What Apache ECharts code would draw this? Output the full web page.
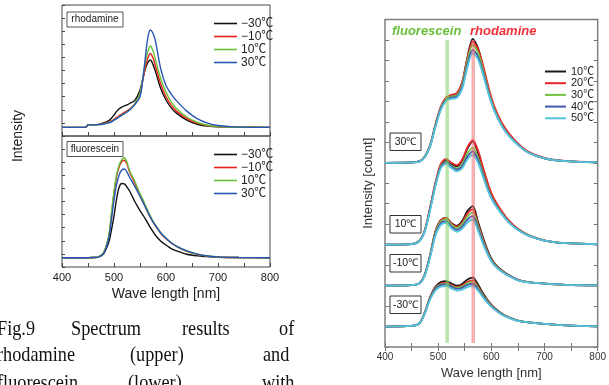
<!DOCTYPE html>
<html>
<head>
<meta charset="utf-8">
<script src="https://cdn.jsdelivr.net/npm/echarts@6/dist/echarts.min.js"></script>
<style>
  html, body { margin: 0; padding: 0; background: #fff; }
  #chart { width: 609px; height: 385px; }
</style>
</head>
<body>
<div id="chart"></div>
<script>
// ---- left figure: separate spectra (Fig.9) ----
const leftWl = [400, 445, 450, 460, 470, 480, 490, 495, 500, 505, 510, 515, 520, 525, 530, 540, 550, 555, 560, 565, 570, 575, 580, 590, 600, 610, 620, 640, 660, 680, 700, 740, 800];
const leftLabels = ['−30℃', '−10℃', '10℃', '30℃'];
const leftColors = ['#111111', '#e8221b', '#6abf3a', '#2756b5'];

// rhodamine (upper panel)
const rhodM30 = [0.66, 0.66, 0.84, 0.86, 0.89, 1.0, 1.18, 1.35, 1.6, 1.88, 2.08, 2.2, 2.3, 2.38, 2.48, 2.72, 3.5, 4.3, 5.1, 5.6, 5.8, 5.45, 4.9, 3.6, 2.75, 2.15, 1.75, 1.22, 0.9, 0.76, 0.7, 0.67, 0.66];
const rhodM10 = [0.66, 0.66, 0.84, 0.85, 0.87, 0.95, 1.05, 1.15, 1.28, 1.42, 1.55, 1.68, 1.8, 1.92, 2.05, 2.45, 3.2, 4.15, 5.2, 5.95, 6.3, 5.95, 5.3, 3.95, 3.0, 2.35, 1.9, 1.32, 0.98, 0.8, 0.72, 0.67, 0.66];
const rhodP10 = [0.66, 0.66, 0.84, 0.85, 0.87, 0.93, 1.02, 1.1, 1.22, 1.35, 1.48, 1.6, 1.72, 1.85, 2.0, 2.45, 3.25, 4.35, 5.6, 6.45, 6.87, 6.5, 5.8, 4.35, 3.35, 2.6, 2.1, 1.45, 1.05, 0.82, 0.73, 0.67, 0.66];
const rhodP30 = [0.66, 0.66, 0.84, 0.85, 0.87, 0.92, 1.0, 1.08, 1.2, 1.33, 1.45, 1.58, 1.7, 1.83, 1.98, 2.4, 3.0, 4.2, 5.9, 7.5, 8.09, 7.85, 7.2, 5.1, 3.85, 3.2, 2.7, 1.9, 1.33, 0.98, 0.8, 0.68, 0.66];

// fluorescein (lower panel)
const fluoM30 = [0.71, 0.71, 0.71, 0.72, 0.76, 1.0, 1.9, 2.8, 3.9, 5.2, 6.1, 6.37, 6.35, 6.1, 5.8, 5.0, 4.3, 4.0, 3.7, 3.35, 3.0, 2.7, 2.4, 1.97, 1.68, 1.4, 1.23, 0.97, 0.85, 0.79, 0.74, 0.72, 0.71];
const fluoM10 = [0.71, 0.71, 0.71, 0.72, 0.77, 1.08, 2.35, 3.95, 5.6, 6.9, 7.65, 8.05, 8.15, 7.85, 7.25, 6.4, 5.45, 5.05, 4.62, 4.18, 3.78, 3.42, 3.12, 2.56, 2.15, 1.83, 1.58, 1.2, 0.97, 0.83, 0.76, 0.72, 0.71];
const fluoP10 = [0.71, 0.71, 0.71, 0.72, 0.77, 1.1, 2.4, 4.1, 5.8, 7.05, 7.8, 8.2, 8.34, 8.0, 7.35, 6.55, 5.6, 5.2, 4.75, 4.3, 3.9, 3.5, 3.2, 2.62, 2.2, 1.87, 1.6, 1.22, 0.98, 0.84, 0.77, 0.72, 0.71];
const fluoP30 = [0.71, 0.71, 0.71, 0.72, 0.76, 1.02, 2.2, 3.6, 5.1, 6.3, 7.05, 7.4, 7.48, 7.25, 6.85, 6.15, 5.4, 5.0, 4.6, 4.2, 3.8, 3.45, 3.15, 2.6, 2.2, 1.85, 1.6, 1.23, 0.98, 0.84, 0.77, 0.72, 0.71];

// ---- right figure: mixed solution, offset spectra ----
const rightWl = [400, 450, 465, 475, 485, 495, 505, 515, 525, 535, 545, 555, 565, 575, 585, 595, 605, 620, 635, 650, 670, 700, 740, 800];
const tempLabels = ['10℃', '20℃', '30℃', '40℃', '50℃'];
const tempColors = ['#1a1a1a', '#e8232a', '#74c043', '#4658ad', '#55c4dc'];
const groupLabels = ['30℃', '10℃', '-10℃', '-30℃'];
const groupOffsets = [9, 5, 3, 1];
const markerWl = [517, 566];
const markerSpan = [0.2, 15];

// group "30℃"
const mix30_t10 = [0, 0.02, 0.07, 0.3, 0.85, 1.85, 2.7, 3.15, 3.27, 3.35, 3.9, 5.15, 6.05, 5.6, 4.63, 3.55, 2.7, 1.85, 1.3, 0.9, 0.5, 0.22, 0.08, 0.02];
const mix30_t20 = [0, 0.02, 0.08, 0.32, 0.88, 1.9, 2.75, 3.2, 3.32, 3.4, 3.92, 5.1, 5.92, 5.55, 4.7, 3.65, 2.8, 1.95, 1.38, 0.95, 0.54, 0.24, 0.09, 0.02];
const mix30_t30 = [0, 0.02, 0.07, 0.3, 0.85, 1.84, 2.68, 3.12, 3.24, 3.3, 3.8, 4.98, 5.76, 5.38, 4.5, 3.48, 2.66, 1.83, 1.28, 0.89, 0.5, 0.22, 0.08, 0.02];
const mix30_t40 = [0, 0.02, 0.07, 0.29, 0.83, 1.8, 2.63, 3.07, 3.18, 3.23, 3.7, 4.8, 5.52, 5.18, 4.35, 3.4, 2.6, 1.8, 1.26, 0.88, 0.49, 0.22, 0.08, 0.02];
const mix30_t50 = [0, 0.02, 0.06, 0.28, 0.8, 1.76, 2.58, 3.02, 3.12, 3.17, 3.6, 4.66, 5.36, 5.05, 4.25, 3.34, 2.57, 1.78, 1.25, 0.87, 0.49, 0.22, 0.08, 0.02];
// group "10℃"
const mix10_t10 = [0, 0.03, 0.2, 0.7, 1.8, 3.0, 3.88, 4.12, 3.93, 3.82, 4.1, 4.7, 5.05, 4.48, 3.6, 2.75, 2.15, 1.55, 1.07, 0.75, 0.45, 0.2, 0.07, 0.02];
const mix10_t20 = [0, 0.03, 0.21, 0.72, 1.85, 3.05, 3.95, 4.19, 4.0, 3.88, 4.15, 4.75, 5.1, 4.6, 3.72, 2.88, 2.25, 1.62, 1.12, 0.78, 0.47, 0.21, 0.07, 0.02];
const mix10_t30 = [0, 0.03, 0.2, 0.7, 1.78, 2.97, 3.84, 4.06, 3.86, 3.72, 3.92, 4.45, 4.73, 4.25, 3.45, 2.67, 2.1, 1.52, 1.05, 0.74, 0.45, 0.2, 0.07, 0.02];
const mix10_t40 = [0, 0.03, 0.19, 0.68, 1.75, 2.93, 3.8, 4.03, 3.82, 3.66, 3.83, 4.3, 4.56, 4.12, 3.36, 2.6, 2.06, 1.5, 1.04, 0.73, 0.44, 0.2, 0.07, 0.02];
const mix10_t50 = [0, 0.03, 0.18, 0.66, 1.7, 2.87, 3.73, 3.95, 3.74, 3.58, 3.72, 4.16, 4.4, 3.99, 3.27, 2.54, 2.02, 1.48, 1.03, 0.72, 0.44, 0.2, 0.07, 0.02];
// group "-10℃"
const mixM10_t10 = [0, 0.02, 0.12, 0.55, 1.5, 2.65, 3.2, 3.31, 3.05, 2.92, 3.15, 3.65, 3.88, 3.1, 2.3, 1.6, 1.12, 0.74, 0.48, 0.28, 0.17, 0.1, 0.04, 0.01];
const mixM10_t20 = [0, 0.02, 0.12, 0.55, 1.5, 2.65, 3.2, 3.31, 3.02, 2.88, 3.08, 3.52, 3.72, 3.0, 2.22, 1.54, 1.08, 0.72, 0.47, 0.28, 0.17, 0.1, 0.04, 0.01];
const mixM10_t30 = [0, 0.02, 0.12, 0.54, 1.48, 2.6, 3.14, 3.25, 2.97, 2.82, 3.0, 3.38, 3.56, 2.9, 2.15, 1.5, 1.05, 0.7, 0.46, 0.27, 0.17, 0.1, 0.04, 0.01];
const mixM10_t40 = [0, 0.02, 0.11, 0.52, 1.44, 2.52, 3.05, 3.15, 2.88, 2.72, 2.88, 3.22, 3.39, 2.78, 2.07, 1.45, 1.02, 0.68, 0.45, 0.27, 0.16, 0.1, 0.04, 0.01];
const mixM10_t50 = [0, 0.02, 0.11, 0.5, 1.4, 2.45, 2.97, 3.07, 2.8, 2.63, 2.77, 3.08, 3.23, 2.68, 2.0, 1.41, 1.0, 0.67, 0.44, 0.26, 0.16, 0.1, 0.04, 0.01];
// group "-30℃"
const mixM30_t10 = [0, 0.03, 0.17, 0.7, 1.45, 1.95, 2.17, 2.22, 2.1, 2.0, 2.08, 2.3, 2.39, 2.05, 1.6, 1.22, 0.93, 0.62, 0.43, 0.29, 0.2, 0.13, 0.06, 0.01];
const mixM30_t20 = [0, 0.03, 0.17, 0.69, 1.42, 1.9, 2.1, 2.14, 2.02, 1.93, 2.0, 2.18, 2.25, 1.95, 1.53, 1.18, 0.9, 0.6, 0.42, 0.29, 0.2, 0.13, 0.06, 0.01];
const mixM30_t30 = [0, 0.03, 0.17, 0.68, 1.4, 1.87, 2.06, 2.1, 1.98, 1.89, 1.95, 2.12, 2.19, 1.9, 1.5, 1.16, 0.89, 0.6, 0.42, 0.29, 0.2, 0.13, 0.06, 0.01];
const mixM30_t40 = [0, 0.03, 0.16, 0.66, 1.37, 1.83, 2.02, 2.06, 1.94, 1.84, 1.89, 2.03, 2.09, 1.83, 1.45, 1.12, 0.87, 0.59, 0.41, 0.28, 0.2, 0.13, 0.06, 0.01];
const mixM30_t50 = [0, 0.03, 0.16, 0.64, 1.33, 1.77, 1.95, 1.98, 1.86, 1.76, 1.8, 1.93, 1.98, 1.75, 1.4, 1.09, 0.85, 0.58, 0.4, 0.28, 0.2, 0.13, 0.06, 0.01];

const captionLines = [
  ['Fig.9', 'Spectrum', 'results', 'of'],
  ['rhodamine', '(upper)', 'and'],
  ['fluorescein', '(lower)', 'with']
];

const chart = echarts.init(document.getElementById('chart'), null, { renderer: 'canvas' });

const rhodSets = [rhodM30, rhodM10, rhodP10, rhodP30];
const fluoSets = [fluoM30, fluoM10, fluoP10, fluoP30];
const mixGroups = [
  [mix30_t10, mix30_t20, mix30_t30, mix30_t40, mix30_t50],
  [mix10_t10, mix10_t20, mix10_t30, mix10_t40, mix10_t50],
  [mixM10_t10, mixM10_t20, mixM10_t30, mixM10_t40, mixM10_t50],
  [mixM30_t10, mixM30_t20, mixM30_t30, mixM30_t40, mixM30_t50]
];

function lineSeries(name, xi, yi, color, width, data) {
  return {
    type: 'line', name, xAxisIndex: xi, yAxisIndex: yi, data,
    showSymbol: false, symbol: 'none', smooth: 0.3, silent: true,
    lineStyle: { color, width }, itemStyle: { color }
  };
}

const series = [];
// left panels use prefixed names so they do not clash with the right legend
rhodSets.forEach((vals, i) => {
  series.push(lineSeries('L' + leftLabels[i], 0, 0, leftColors[i], 1.4, leftWl.map((w, k) => [w, vals[k]])));
});
fluoSets.forEach((vals, i) => {
  series.push(lineSeries('L' + leftLabels[i], 1, 1, leftColors[i], 1.4, leftWl.map((w, k) => [w, vals[k]])));
});
mixGroups.forEach((group, g) => {
  group.forEach((vals, t) => {
    series.push(lineSeries(tempLabels[t], 2, 2, tempColors[t], 1.8,
      rightWl.map((w, k) => [w, groupOffsets[g] + vals[k]])));
  });
});
// reference wavelengths of the two dyes
const markerColors = ['rgba(130,205,100,0.55)', 'rgba(242,95,100,0.5)'];
markerWl.forEach((w, i) => {
  const s = lineSeries('marker' + i, 2, 2, markerColors[i], 3.5, markerSpan.map(v => [w, v]));
  s.smooth = false;
  s.z = 4;
  series.push(s);
});

const tickStyle = { lineStyle: { color: '#444', width: 1 } };
const leftX = (gi, showLabel) => ({
  type: 'value', gridIndex: gi, min: 400, max: 800, interval: 100,
  axisLine: { show: false }, splitLine: { show: false },
  axisTick: { inside: true, length: 4, ...tickStyle },
  minorTick: { show: true, splitNumber: 2, length: 4, ...tickStyle },
  axisLabel: { show: showLabel, fontSize: 11, color: '#222', margin: 5 }
});
const leftY = (gi) => ({
  type: 'value', gridIndex: gi, min: 0, max: 10, interval: 1,
  axisLine: { show: false }, splitLine: { show: false },
  axisTick: { inside: true, length: 3, ...tickStyle },
  axisLabel: { show: false }
});
const rightTick = { lineStyle: { color: '#777', width: 1 } };

const graphic = [];
// left panel sample boxes
[['rhodamine', 12], ['fluorescein', 141.5]].forEach(([txt, top]) => {
  graphic.push({
    type: 'group', children: [
      { type: 'rect', shape: { x: 67, y: top, width: 56, height: 15 }, style: { fill: '#fff', stroke: '#555', lineWidth: 1 } },
      { type: 'text', x: 95, y: top + 7.5, style: { text: txt, align: 'center', verticalAlign: 'middle', font: '10px "Liberation Sans"', fill: '#222' } }
    ]
  });
});
// right panel temperature boxes
const boxTops = [133, 215.5, 254.5, 296];
groupLabels.forEach((txt, i) => {
  graphic.push({
    type: 'group', children: [
      { type: 'rect', shape: { x: 390, y: boxTops[i], width: 31, height: 17.5 }, style: { fill: '#fff', stroke: '#333', lineWidth: 1 } },
      { type: 'text', x: 405.5, y: boxTops[i] + 9, style: { text: txt, align: 'center', verticalAlign: 'middle', font: '10.5px "Liberation Sans"', fill: '#222' } }
    ]
  });
});
graphic.push(
  { type: 'text', x: 392, y: 31, style: { text: 'fluorescein', verticalAlign: 'middle', font: 'italic bold 13px "Liberation Sans"', fill: '#6abf3a' } },
  { type: 'text', x: 470, y: 31, style: { text: 'rhodamine', verticalAlign: 'middle', font: 'italic bold 13px "Liberation Sans"', fill: '#f0323c' } },
  { type: 'text', x: 18, y: 136, rotation: Math.PI / 2, style: { text: 'Intensity', align: 'center', verticalAlign: 'middle', font: '14px "Liberation Sans"', fill: '#222' } }
);
// caption, justified word by word
const captionX = [[-3, 71, 182, 279], [-3, 130, 263], [-3, 128, 262]];
const captionY = [329, 355, 383];
captionLines.forEach((words, li) => {
  words.forEach((w, wi) => {
    graphic.push({
      type: 'text', x: captionX[li][wi], y: captionY[li], scaleX: 0.83,
      style: { text: w, verticalAlign: 'middle', font: '22px "Liberation Serif"', fill: '#111' }
    });
  });
});

const option = {
  animation: false,
  backgroundColor: '#fff',
  textStyle: { fontFamily: '"Liberation Sans", "Noto Sans CJK JP", sans-serif' },
  grid: [
    { left: 62, top: 5, width: 208, height: 131, show: true, borderColor: '#444', borderWidth: 1, backgroundColor: 'transparent' },
    { left: 62, top: 136, width: 208, height: 131, show: true, borderColor: '#444', borderWidth: 1, backgroundColor: 'transparent' },
    { left: 385, top: 19.5, width: 213, height: 328, show: true, borderColor: '#808080', borderWidth: 1.5, backgroundColor: 'transparent' }
  ],
  xAxis: [
    leftX(0, false),
    Object.assign(leftX(1, true), { name: 'Wave length [nm]', nameLocation: 'middle', nameGap: 20, nameTextStyle: { fontSize: 14, color: '#222' } }),
    {
      type: 'value', gridIndex: 2, min: 400, max: 800, interval: 100,
      axisLine: { show: false }, splitLine: { show: false },
      axisTick: { inside: true, length: 4, ...rightTick },
      minorTick: { show: true, splitNumber: 2, length: 4, ...rightTick },
      axisLabel: { fontSize: 10, color: '#333', margin: 5 },
      name: 'Wave length [nm]', nameLocation: 'middle', nameGap: 20, nameTextStyle: { fontSize: 13, color: '#333' }
    },
    {
      type: 'value', gridIndex: 2, position: 'top', min: 400, max: 800, interval: 100,
      axisLine: { show: false }, splitLine: { show: false },
      axisTick: { inside: true, length: 4, ...rightTick },
      minorTick: { show: true, splitNumber: 2, length: 4, ...rightTick },
      axisLabel: { show: false }
    }
  ],
  yAxis: [
    leftY(0),
    leftY(1),
    {
      type: 'value', gridIndex: 2, min: 0, max: 16, interval: 1,
      axisLine: { show: false }, splitLine: { show: false },
      axisTick: { inside: true, length: 4, ...rightTick },
      axisLabel: { show: false },
      name: 'Intensity [count]', nameLocation: 'middle', nameGap: 10, nameTextStyle: { fontSize: 13, color: '#333' }
    },
    {
      type: 'value', gridIndex: 2, position: 'right', min: 0, max: 16, interval: 1,
      axisLine: { show: false }, splitLine: { show: false },
      axisTick: { inside: true, length: 4, ...rightTick },
      axisLabel: { show: false }
    }
  ],
  legend: [
    {
      data: leftLabels.map(l => 'L' + l), orient: 'vertical', left: 209, top: 12,
      icon: 'rect', itemWidth: 23, itemHeight: 1.6, itemGap: 0, selectedMode: false,
      formatter: n => n.slice(1), textStyle: { fontSize: 12, lineHeight: 13, color: '#222', padding: [0, 0, 0, -1] }
    },
    {
      data: leftLabels.map(l => 'L' + l), orient: 'vertical', left: 209, top: 143,
      icon: 'rect', itemWidth: 23, itemHeight: 1.6, itemGap: 0, selectedMode: false,
      formatter: n => n.slice(1), textStyle: { fontSize: 12, lineHeight: 13, color: '#222', padding: [0, 0, 0, -1] }
    },
    {
      data: tempLabels, orient: 'vertical', left: 540, top: 61,
      icon: 'rect', itemWidth: 21, itemHeight: 2, itemGap: 0.7, selectedMode: false,
      textStyle: { fontSize: 11, lineHeight: 11, color: '#222' }
    }
  ],
  graphic,
  series
};

chart.setOption(option);
</script>
</body>
</html>
